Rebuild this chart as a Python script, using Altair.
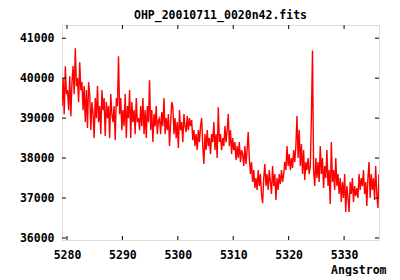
import altair as alt
import pandas as pd

# Spectrum flux values, sampled every 0.2 Angstrom starting at 5279.1
flux = [
    # 5279.1 - 5283.9
    39300, 40000, 39100, 40300, 39600, 39700, 39200, 40050, 39050, 39900,
    40300, 39600, 40750, 39800, 40000, 39400, 40400, 39700, 39900, 39200,
    39800, 38900, 39700, 38750, 39900,
    # 5284.1 - 5288.9
    39600, 38700, 39400, 39100, 38500, 39500, 39000, 39800, 38900, 39300,
    38600, 39700, 39200, 39500, 38550, 39400, 39000, 39300, 38500, 39600,
    39100, 38900, 39300, 38450, 39500,
    # 5289.1 - 5293.9
    39300, 40550, 39100, 39500, 38700, 39200, 38800, 39600, 38500, 39300,
    39000, 39700, 38500, 39400, 38900, 39200, 38600, 39500, 38900, 39000,
    38700, 39300, 38800, 39500, 38600,
    # 5294.1 - 5298.9
    39200, 38500, 39300, 38900, 39950, 38700, 39200, 38400, 39100, 38800,
    39300, 38600, 38950, 39000, 38600, 39150, 38800, 39500, 38600, 39000,
    38700, 39100, 38300, 38900, 39400,
    # 5299.1 - 5303.9
    39300, 38600, 39000, 38500, 38900, 38250, 39200, 38700, 38900, 38400,
    39100, 38800, 38650, 39050, 38700, 39000, 38800, 38950, 38450, 38700,
    38300, 38600, 38200, 38700, 38400,
    # 5304.1 - 5308.9
    38800, 39000, 38300, 37850, 38600, 38200, 38700, 38300, 38500, 38100,
    38600, 38400, 38900, 38200, 38600, 38000, 39270, 38400, 38600, 38200,
    38500, 38300, 38800, 38400, 38700,
    # 5309.1 - 5313.9
    39100, 38300, 38700, 38100, 38500, 38200, 38400, 37950, 38300, 38000,
    38400, 37900, 38200, 38100, 37800, 38300, 37850, 38200, 38650, 38000,
    37600, 37900, 37400, 37700, 37250,
    # 5314.1 - 5318.9
    37500, 37200, 37700, 37300, 37600, 37100, 36870, 37500, 37850, 37300,
    37600, 37200, 37700, 37400, 37100, 37800, 37300, 37600, 36950, 37500,
    37200, 37600, 37350, 37700, 37400,
    # 5319.1 - 5323.9
    37600, 37900, 37700, 38300, 37800, 38100, 37700, 38000, 37750, 38200,
    37900, 38300, 39050, 38000, 38700, 37800, 38350, 37600, 38200, 37450,
    37900, 37700, 38000, 37600, 37800,
    # 5324.1 - 5328.9
    39000, 40690, 37700, 37300, 38000, 37500, 37900, 37400, 38300, 37600,
    38000, 37250, 37800, 37500, 38200, 37300, 37700, 36850, 38400, 37400,
    37700, 37200, 38000, 37300, 37600,
    # 5329.1 - 5333.9
    37100, 37500, 36900, 37400, 37000, 37600, 36650, 37300, 37000, 36650,
    37400, 37100, 37500, 36900, 37300, 37050, 37250, 37000, 37600, 37200,
    37500, 37300, 37700, 37100, 37400,
    # 5334.1 - 5336.3
    36800, 37500, 37900, 37000, 37600, 37200, 37500, 36950, 37800, 37100,
    36750, 37600,
]
start_wl = 5279.1
step_wl = 0.2
wavelength = [round(start_wl + step_wl * i, 1) for i in range(len(flux))]

x_ticks = [5280, 5290, 5300, 5310, 5320, 5330]
y_ticks = [36000, 37000, 38000, 39000, 40000, 41000]

title_text = "OHP_20010711_0020n42.fits"
x_title = "Angstrom"

FONT = "DejaVu Sans Mono"
W, H = 317, 215
TL = 4

df = pd.DataFrame({"wl": wavelength, "flux": flux})
xt = pd.DataFrame({"wl": x_ticks})
yt = pd.DataFrame({"flux": y_ticks})

xscale = alt.Scale(domain=[5279.1, 5336.3], nice=False, zero=False)
yscale = alt.Scale(domain=[35950, 41330], nice=False, zero=False)

line = alt.Chart(df).mark_line(color="#ff0000", strokeWidth=1.4, clip=True).encode(
    x=alt.X("wl:Q", scale=xscale,
            axis=alt.Axis(values=x_ticks, format="d", tickSize=0, domain=False, grid=False,
                          labelPadding=9, labelFont=FONT, labelFontSize=11.5,
                          labelFontWeight="bold", labelColor="black", labelFlush=False,
                          title=x_title, titleFont=FONT, titleFontSize=11.5,
                          titleFontWeight="bold", titleColor="black",
                          titleAlign="right", titleAnchor="end", titleX=324, titleY=33,
                          titleBaseline="alphabetic")),
    y=alt.Y("flux:Q", scale=yscale,
            axis=alt.Axis(values=y_ticks, format="d", tickSize=0, domain=False, grid=False,
                          labelPadding=8, labelFont=FONT, labelFontSize=11.5,
                          labelFontWeight="bold", labelColor="black", labelFlush=False,
                          title=None)),
)

xb = alt.Chart(xt).mark_rule(color="black", strokeWidth=1).encode(
    x=alt.X("wl:Q", scale=xscale), y=alt.value(H), y2=alt.value(H - TL))
xtop = alt.Chart(xt).mark_rule(color="black", strokeWidth=1).encode(
    x=alt.X("wl:Q", scale=xscale), y=alt.value(0), y2=alt.value(TL))
yl = alt.Chart(yt).mark_rule(color="black", strokeWidth=1).encode(
    y=alt.Y("flux:Q", scale=yscale), x=alt.value(0), x2=alt.value(TL))
yr = alt.Chart(yt).mark_rule(color="black", strokeWidth=1).encode(
    y=alt.Y("flux:Q", scale=yscale), x=alt.value(W - TL), x2=alt.value(W))

chart = alt.layer(line, xb, xtop, yl, yr).properties(
    width=W, height=H,
    title=alt.TitleParams(title_text, font=FONT, fontSize=11.5, fontWeight="bold",
                          color="black", anchor="middle", offset=3),
    autosize=alt.AutoSizeParams(type="none"),
    padding={"left": 54, "top": 17, "right": 13, "bottom": 36},
).configure_view(stroke="black", strokeWidth=1).configure(background="white")

chart.save("out.html", embed_options={"renderer": "svg", "actions": False})
